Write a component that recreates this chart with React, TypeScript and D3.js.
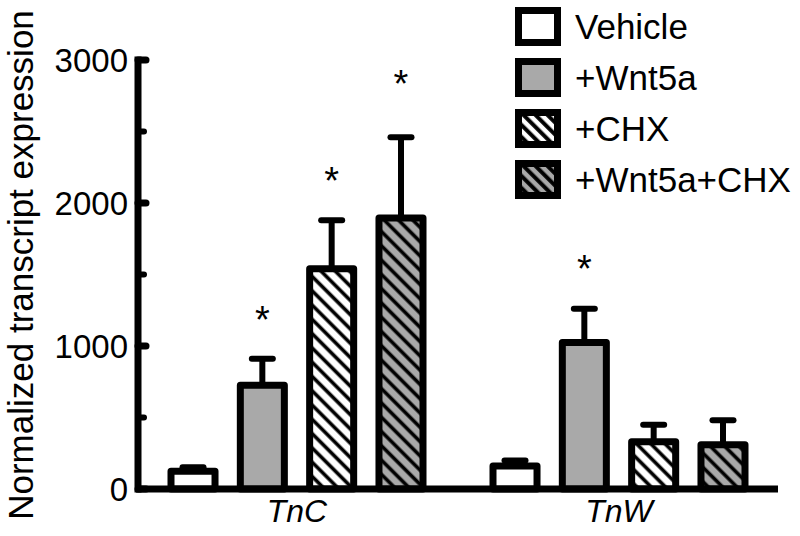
import React from "react";
import * as d3 from "d3";

const groups = ["TnC", "TnW"];
const series = ["Vehicle", "+Wnt5a", "+CHX", "+Wnt5a+CHX"];
const tncMeans = [125, 725, 1540, 1895];
const tncErrTop = [152, 910, 1880, 2460];
const tnwMeans = [160, 1025, 330, 310];
const tnwErrTop = [200, 1260, 450, 480];
const tncStars = [null, 1245, 2217, 2895];
const tnwStars = [null, 1601, null, null];
const majorTicks = [0, 1000, 2000, 3000];
const minorTicks = [500, 1500, 2500];
const yTitle = "Normalized transcript expression";

const GRAY = "#a9a9a9";
const FONT = "'Liberation Sans', Arial, Helvetica, sans-serif";

export default function App() {
  const W = 800, H = 536;
  const y = d3.scaleLinear().domain([0, 3000]).range([489, 60]);
  const x0 = d3.scalePoint<string>().domain(groups).range([297, 619]);
  const x1 = d3.scaleBand<string>().domain(series).range([-126, 126]).paddingInner(0.365).paddingOuter(0);
  const bw = x1.bandwidth();

  const data = [
    { g: "TnC", means: tncMeans, err: tncErrTop, stars: tncStars },
    { g: "TnW", means: tnwMeans, err: tnwErrTop, stars: tnwStars },
  ];

  const fillFor = (i: number) =>
    i === 0 ? "#fff" : i === 1 ? GRAY : i === 2 ? "url(#hatchW)" : "url(#hatchG)";
  const legendFill = (i: number) =>
    i === 0 ? "#fff" : i === 1 ? GRAY : i === 2 ? "url(#lhatchW)" : "url(#lhatchG)";
  const starFs = 38;

  return (
    <svg width={W} height={H} style={{ position: "absolute", left: 0, top: 0, background: "#fff" }} fontFamily={FONT}>
      <defs>
        <pattern id="hatchW" patternUnits="userSpaceOnUse" width={10.1} height={10.1} patternTransform="rotate(-45)">
          <rect width={10.1} height={10.1} fill="#fff" />
          <line x1={5} y1={0} x2={5} y2={10.1} stroke="#000" strokeWidth={3.6} />
        </pattern>
        <pattern id="hatchG" patternUnits="userSpaceOnUse" width={10.1} height={10.1} patternTransform="rotate(-45)">
          <rect width={10.1} height={10.1} fill={GRAY} />
          <line x1={5} y1={0} x2={5} y2={10.1} stroke="#000" strokeWidth={3.6} />
        </pattern>
        <pattern id="lhatchW" patternUnits="userSpaceOnUse" width={8.5} height={8.5} patternTransform="rotate(-45)">
          <rect width={8.5} height={8.5} fill="#fff" />
          <line x1={4} y1={0} x2={4} y2={8.5} stroke="#000" strokeWidth={4} />
        </pattern>
        <pattern id="lhatchG" patternUnits="userSpaceOnUse" width={8.5} height={8.5} patternTransform="rotate(-45)">
          <rect width={8.5} height={8.5} fill={GRAY} />
          <line x1={4} y1={0} x2={4} y2={8.5} stroke="#000" strokeWidth={4} />
        </pattern>
      </defs>

      {/* bars */}
      {data.map((d) => (
        <g key={d.g}>
          {series.map((s, i) => {
            const cx = (x0(d.g) as number) + (x1(s) as number) + bw / 2;
            const top = y(d.means[i]);
            const et = y(d.err[i]);
            return (
              <g key={s}>
                <line x1={cx} x2={cx} y1={top} y2={et} stroke="#000" strokeWidth={6} />
                <line x1={cx - 10.5} x2={cx + 10.5} y1={et} y2={et} stroke="#000" strokeWidth={6} strokeLinecap="round" />
                <rect
                  x={cx - bw / 2}
                  y={top}
                  width={bw}
                  height={y(0) - top}
                  fill={fillFor(i)}
                  stroke="#000"
                  strokeWidth={7}
                  strokeLinejoin="round"
                />
                {d.stars[i] != null && (
                  <text x={cx} y={y(d.stars[i] as number) + starFs * 0.57} textAnchor="middle" fontSize={starFs} fill="#000">
                    *
                  </text>
                )}
              </g>
            );
          })}
        </g>
      ))}

      {/* axes */}
      <line x1={138} x2={138} y1={y(3000)} y2={y(0)} stroke="#000" strokeWidth={7} strokeLinecap="square" />
      <line x1={136} x2={778} y1={y(0)} y2={y(0)} stroke="#000" strokeWidth={7} />
      {majorTicks.map((t) => (
        <g key={t}>
          <line x1={138} x2={146} y1={y(t)} y2={y(t)} stroke="#000" strokeWidth={7} strokeLinecap="round" />
          <text x={128} y={y(t) + 12} textAnchor="end" fontSize={33} fill="#000">
            {t}
          </text>
        </g>
      ))}
      {minorTicks.map((t) => (
        <line key={t} x1={138} x2={144} y1={y(t)} y2={y(t)} stroke="#000" strokeWidth={6} strokeLinecap="round" />
      ))}

      {/* group labels */}
      {groups.map((g) => (
        <text key={g} x={x0(g) as number} y={522} textAnchor="middle" fontSize={32} fontStyle="italic" fill="#000">
          {g}
        </text>
      ))}

      {/* y title */}
      <text transform="translate(33,265) rotate(-90)" textAnchor="middle" fontSize={35} fill="#000">
        {yTitle}
      </text>

      {/* legend */}
      {series.map((s, i) => (
        <g key={s} transform={`translate(0, ${i * 51})`}>
          <rect x={518.5} y={10.5} width={39} height={32} fill={legendFill(i)} stroke="#000" strokeWidth={7} />
          <text x={575} y={38.5} fontSize={35} fill="#000">
            {s}
          </text>
        </g>
      ))}
    </svg>
  );
}
